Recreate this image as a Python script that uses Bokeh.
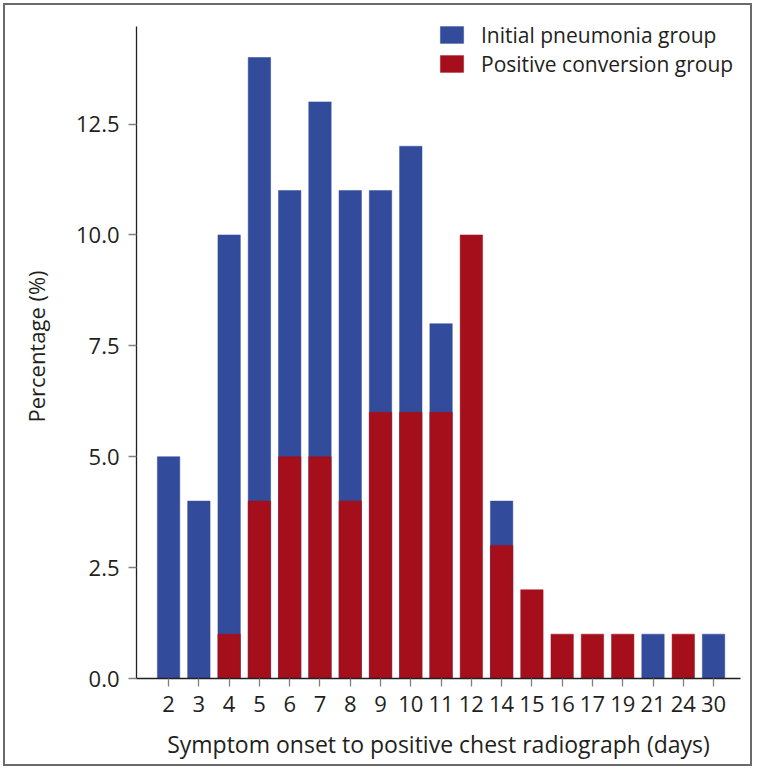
from bokeh.plotting import figure
from bokeh.models import ColumnDataSource, FixedTicker, Legend, LegendItem, Range1d
from bokeh.embed import file_html
from bokeh.resources import INLINE

# ---- data ----
days = ["2", "3", "4", "5", "6", "7", "8", "9", "10", "11", "12", "14", "15", "16", "17", "19", "21", "24", "30"]
initial_pneumonia = [5, 4, 10, 14, 11, 13, 11, 11, 12, 8, 0, 4, 0, 0, 0, 0, 1, 0, 1]
positive_conversion = [0, 0, 1, 4, 5, 5, 4, 6, 6, 6, 10, 3, 2, 1, 1, 1, 0, 1, 0]
y_ticks = [0, 2.5, 5, 7.5, 10, 12.5]
y_axis_top = 14.70

FONT = "Open Sans"
TXT = "#231f20"
BLUE = "#324b9b"
RED = "#a50f1b"

idx = list(range(len(days)))
src = ColumnDataSource(dict(x=idx, day=days, ip=initial_pneumonia, pc=positive_conversion))

W, H = 749, 763
p = figure(width=W, height=H, output_backend="svg", toolbar_location=None,
           x_range=Range1d(-1.06, len(days) - 1 + 0.89), y_range=Range1d(0, 14.97),
           min_border_left=131, min_border_right=14, min_border_top=9, min_border_bottom=90)
p.styles = {"border": "2px solid #6a6a6a", "margin": "3px"}
p.outline_line_color = None
p.grid.visible = False
p.background_fill_color = "white"
p.border_fill_color = "white"

rb = p.vbar(x="x", top="ip", width=0.74, source=src, fill_color=BLUE, line_color=BLUE, line_width=0.5)
rr = p.vbar(x="x", top="pc", width=0.74, source=src, fill_color=RED, line_color=RED, line_width=0.5)

# axes
p.xaxis.ticker = FixedTicker(ticks=idx)
p.xaxis.major_label_overrides = {i: d for i, d in zip(idx, days)}
p.yaxis.ticker = FixedTicker(ticks=y_ticks)
p.yaxis.major_label_overrides = {t: f"{t:.1f}" for t in y_ticks}
p.yaxis.bounds = (0, y_axis_top)
for ax in (p.xaxis, p.yaxis):
    ax.axis_line_color = TXT
    ax.axis_line_width = 1.3
    ax.major_tick_line_color = "#808080"
    ax.major_tick_line_width = 1.3
    ax.major_tick_out = 8
    ax.major_tick_in = 0
    ax.minor_tick_line_color = None
    ax.major_label_text_font = FONT
    ax.major_label_text_font_size = "22px"
    ax.major_label_text_color = TXT
    ax.axis_label_text_font = FONT
    ax.axis_label_text_font_size = "22px"
    ax.axis_label_text_font_style = "normal"
    ax.axis_label_text_color = TXT
p.xaxis.axis_label = "Symptom onset to positive chest radiograph (days)"
p.xaxis.axis_label_text_font_size = "23px"
p.yaxis.axis_label = "Percentage (%)"
p.xaxis.major_label_standoff = 9
p.xaxis.axis_label_standoff = 13
p.yaxis.major_label_standoff = 9
p.yaxis.axis_label_standoff = 22

legend = Legend(items=[LegendItem(label="Initial pneumonia group", renderers=[rb]),
                       LegendItem(label="Positive conversion group", renderers=[rr])],
                location=(301, 600), glyph_width=29, glyph_height=21, label_standoff=15,
                padding=0, margin=0, spacing=-4, label_height=29,
                border_line_color=None, background_fill_alpha=0,
                label_text_font=FONT, label_text_font_size="21px", label_text_color=TXT)
p.add_layout(legend)

open("out.html", "w").write(file_html(p, INLINE))
